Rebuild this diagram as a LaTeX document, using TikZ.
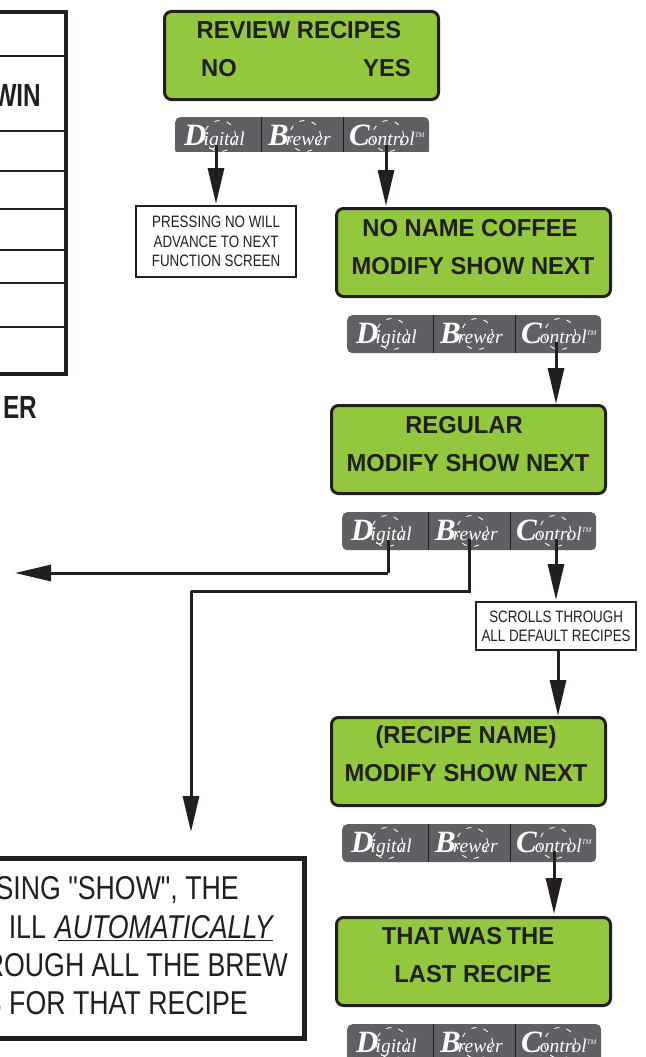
\documentclass[tikz,border=0pt]{standalone}
\usepackage{fontspec}
\setmainfont{Liberation Sans}
\newfontfamily\condf[FakeStretch=0.81]{Liberation Sans}
\newfontfamily\tightf[FakeStretch=0.76]{Liberation Sans}
\newfontfamily\lcdf[FakeStretch=0.97]{Liberation Sans}
\newfontfamily\logof{Liberation Serif}
\usetikzlibrary{arrows.meta}
\definecolor{lcdgreen}{HTML}{93C83E}
\definecolor{inkdark}{HTML}{231F20}
\definecolor{padgrey}{HTML}{5F6064}
\tikzset{
  x=1pt,y=-1pt,
  lcd/.style={draw=inkdark,line width=3pt,fill=lcdgreen,rounded corners=7pt,anchor=north west,inner sep=0pt},
  lcdtext/.style={font=\lcdf\fontsize{24.5}{25}\bfseries\selectfont,text=inkdark,inner sep=0pt,anchor=base},
  notebox/.style={draw=inkdark,line width=2.2pt,fill=white,anchor=north west,inner sep=0pt,align=center,font=\condf\fontsize{16.5}{19.5}\selectfont,text=inkdark},
  bigtext/.style={font=\condf\fontsize{33}{33}\selectfont,text=inkdark,inner sep=0pt,anchor=base east},
  bigbold/.style={font=\tightf\fontsize{32}{32}\bfseries\selectfont,text=inkdark,inner sep=0pt,anchor=base east},
  conn/.style={draw=inkdark,line width=3pt},
  arrowconn/.style={conn,-{Triangle[length=36pt,width=16pt,fill=inkdark]}},
  padbody/.style={fill=padgrey,rounded corners=5pt,anchor=north west,inner sep=0pt,minimum width=254pt,minimum height=38pt},
  padlogo/.style={text=white,inner sep=0pt,anchor=base west},
  padring/.style={draw=white,line width=0.9pt,dash pattern=on 5pt off 7.5pt},
  rule/.style={draw=inkdark,line width=2pt},
}
\newcommand{\lcdscreen}[5]{% name, x, y, w, h
  \node[lcd,minimum width=#4pt,minimum height=#5pt] (#1) at (#2,#3) {};}
\newcommand{\keypad}[3]{% name,x,y
  \begin{scope}[shift={(#2,#3)}]
    \node[padbody] (#1) at (0,0) {};
    \draw[inkdark,line width=0.9pt] (86,0) -- (86,38);
    \draw[inkdark,line width=0.9pt] (168,0) -- (168,38);
    \foreach \cx in {45,130,213}{\draw[padring] (\cx,19) circle (15.5pt);}
    \node[padlogo] (#1d) at (9,28) {\logof\bfseries\itshape\fontsize{31}{31}\selectfont D\kern-3pt\fontsize{19.5}{19.5}\mdseries\selectfont igital};
    \node[padlogo] (#1b) at (93,28) {\logof\bfseries\itshape\fontsize{31}{31}\selectfont B\kern-3pt\fontsize{19.5}{19.5}\mdseries\selectfont rewer};
    \node[padlogo] (#1c) at (174,28) {\logof\bfseries\itshape\fontsize{31}{31}\selectfont C\kern-2pt\fontsize{19.5}{19.5}\mdseries\selectfont ontrol\raisebox{8pt}{\fontsize{7}{7}\selectfont TM}};
    \coordinate (#1D) at (46,27);
    \coordinate (#1B) at (127,27);
    \coordinate (#1C) at (210,27);
  \end{scope}}
\begin{document}
\begin{tikzpicture}
\useasboundingbox (0,0) rectangle (645,1057);
\fill[white] (0,0) rectangle (645,1057);

% table on the left
\draw[inkdark,line width=3.4pt] (-5,12) -- (66,12) -- (66,374) -- (-5,374);
\foreach \ry in {56,131,171,209,250,283,327}{\draw[rule] (0,\ry) -- (66,\ry);}
\node[bigbold] (winlabel) at (41,106) {WIN};
\node[bigbold] (erlabel) at (37,418) {ER};

% screens
\lcdscreen{s1}{163}{10}{274}{88}
\lcdscreen{s2}{335}{207}{274}{88}
\lcdscreen{s3}{330}{404}{274}{88}
\lcdscreen{s4}{330}{716}{274}{88}
\lcdscreen{s5}{335}{916}{274}{88}
\node[lcdtext] (s1a) at (299,39) {REVIEW RECIPES};
\node[lcdtext] (s1b) at (219,77) {NO};
\node[lcdtext] (s1c) at (387,77) {YES};
\node[lcdtext] (s2a) at (470,236) {NO NAME COFFEE};
\node[lcdtext] (s2b) at (473,274) {MODIFY SHOW NEXT};
\node[lcdtext] (s3a) at (464,433) {REGULAR};
\node[lcdtext] (s3b) at (468,471) {MODIFY SHOW NEXT};
\node[lcdtext] (s4a) at (466,743) {(RECIPE NAME)};
\node[lcdtext] (s4b) at (466,781) {MODIFY SHOW NEXT};
\node[lcdtext] (s5a) at (468,944) {THAT\hspace{4.5pt}WAS\hspace{4.5pt}THE};
\node[lcdtext] (s5b) at (473,982) {LAST RECIPE};

% keypads
\keypad{k1}{175}{117}
\fill[white] (173,152) rectangle (431,156);
\keypad{k2}{347}{315}
\keypad{k3}{342}{512}
\keypad{k4}{342}{824}
\keypad{k5}{347}{1024}

% note boxes
\node[notebox,minimum width=160pt,minimum height=71pt] (n1) at (135,205) {PRESSING NO WILL\\ADVANCE TO NEXT\\FUNCTION SCREEN};
\node[notebox,minimum width=160pt,minimum height=48pt] (n2) at (475,601) {SCROLLS THROUGH\\ALL DEFAULT RECIPES};

% large note
\draw[inkdark,line width=5pt] (-5,858.5) -- (304.5,858.5) -- (304.5,1038.5) -- (-5,1038.5);
\node[bigtext] (t1) at (239,899) {SING "SHOW", THE};
\node[bigtext] (t2) at (273,938) {ILL\hspace{12pt}\underline{\itshape\hspace{-3pt}AUTOMATICALLY}};
\node[bigtext] (t3) at (288,976) {ROUGH ALL THE BREW};
\node[bigtext] (t4) at (248,1014) {S FOR THAT RECIPE};

% connectors
\coordinate (e1) at (15,573);
\coordinate (c1) at (388,573);
\coordinate (e2) at (191,832);
\coordinate (c2a) at (469,591);
\coordinate (c2b) at (191,591);
\coordinate (n1t) at (216,204);
\coordinate (s2t) at (386,206);
\coordinate (s3t) at (556,404);
\coordinate (n2t) at (556,600);
\coordinate (n2b) at (558,650);
\coordinate (s4t) at (558,716);
\coordinate (s5t) at (554,914);
\draw[arrowconn] (216,145) -- (n1t);
\draw[arrowconn] (386,145) -- (s2t);
\draw[arrowconn] (556,342) -- (s3t);
\draw[conn] (k3D)++(0,1) |- (c1);
\draw[arrowconn] (c1) -- (e1);
\draw[conn] (k3B)++(0,0) -- (c2a) -- (c2b);
\draw[arrowconn] (c2b) -- (e2);
\draw[arrowconn] (556,539) -- (n2t);
\draw[arrowconn] (n2b) -- (s4t);
\draw[arrowconn] (554,851) -- (s5t);
\end{tikzpicture}
\end{document}
